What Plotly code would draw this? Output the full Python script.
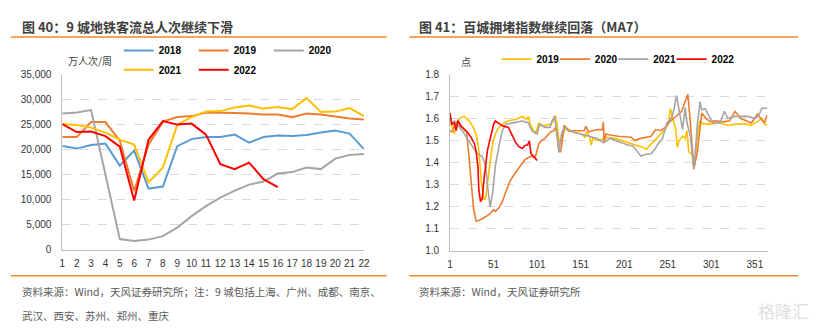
import plotly.graph_objects as go

W, H = 819, 331

# ---------------- Left chart data (9-city metro weekly ridership, 万人次/周) ----------------
weeks = list(range(1, 23))
metro_2018 = [20.7, 20.2, 20.9, 21.2, 16.8, 19.8, 12.2, 12.6, 20.7, 22.1, 22.5, 22.5, 23.0, 21.4, 22.5, 22.8, 22.7, 22.9, 23.4, 23.8, 23.2, 20.1]
metro_2019 = [22.5, 22.5, 25.5, 25.5, 21.8, 11.7, 21.0, 25.6, 26.5, 26.7, 27.4, 27.4, 27.3, 27.2, 27.0, 27.0, 26.5, 27.2, 27.0, 26.6, 26.2, 26.0]
metro_2020 = [27.2, 27.4, 27.9, 15.0, 2.1, 1.7, 2.0, 2.7, 4.4, 6.7, 8.7, 10.4, 11.8, 13.0, 13.6, 15.2, 15.5, 16.4, 16.1, 18.2, 18.9, 19.1]
metro_2021 = [25.1, 24.9, 24.4, 23.4, 22.0, 21.0, 13.5, 16.4, 25.0, 26.5, 27.6, 27.7, 28.4, 28.8, 28.2, 28.5, 28.1, 30.3, 27.5, 27.6, 28.3, 26.7]
metro_2022 = [25.1, 23.5, 23.6, 22.7, 20.6, 9.8, 22.0, 25.7, 25.0, 25.2, 23.0, 17.1, 16.1, 17.4, 14.1, 12.5]
left_yticks = [0, 5000, 10000, 15000, 20000, 25000, 30000, 35000]

# ---------------- Right chart data (100-city congestion index, MA7) ----------------
c2019_day = [1, 4, 6, 9, 12, 17, 23, 27, 31, 34, 37, 40, 42, 46, 50, 53, 57, 63, 68, 76, 84, 89, 91, 93, 99, 103, 108, 116, 120, 122, 124, 126, 128, 131, 134, 138, 145, 152, 156, 158, 161, 163, 165, 172, 180, 190, 205, 215, 222, 226, 231, 238, 243, 248, 252, 254, 257, 260, 262, 264, 268, 271, 273, 275, 279, 281, 283, 285, 288, 292, 300, 310, 320, 330, 340, 347, 353, 359, 363, 365]
c2019_val = [1.59, 1.55, 1.53, 1.58, 1.60, 1.61, 1.59, 1.565, 1.53, 1.46, 1.31, 1.23, 1.24, 1.37, 1.49, 1.53, 1.56, 1.58, 1.59, 1.596, 1.61, 1.596, 1.61, 1.575, 1.53, 1.58, 1.567, 1.574, 1.589, 1.615, 1.57, 1.50, 1.49, 1.53, 1.56, 1.55, 1.535, 1.53, 1.515, 1.54, 1.52, 1.48, 1.51, 1.50, 1.515, 1.51, 1.49, 1.48, 1.47, 1.46, 1.48, 1.51, 1.53, 1.55, 1.58, 1.645, 1.60, 1.55, 1.47, 1.50, 1.52, 1.51, 1.545, 1.45, 1.435, 1.37, 1.44, 1.52, 1.59, 1.575, 1.575, 1.58, 1.57, 1.575, 1.575, 1.57, 1.585, 1.60, 1.57, 1.575]

c2020_day = [1, 3, 6, 10, 15, 20, 22, 25, 28, 31, 34, 40, 46, 51, 53, 57, 61, 65, 70, 76, 82, 87, 93, 99, 101, 103, 106, 110, 116, 120, 122, 124, 126, 128, 130, 132, 137, 145, 155, 157, 160, 170, 176, 177, 178, 180, 185, 194, 209, 213, 220, 232, 237, 243, 248, 252, 260, 267, 270, 274, 277, 281, 285, 290, 295, 300, 305, 315, 322, 328, 335, 342, 347, 354, 358, 362, 365]
c2020_val = [1.545, 1.54, 1.567, 1.59, 1.56, 1.538, 1.46, 1.31, 1.19, 1.134, 1.137, 1.149, 1.164, 1.186, 1.178, 1.193, 1.222, 1.266, 1.317, 1.354, 1.384, 1.413, 1.427, 1.427, 1.457, 1.486, 1.50, 1.51, 1.538, 1.545, 1.56, 1.53, 1.45, 1.45, 1.50, 1.57, 1.545, 1.545, 1.545, 1.565, 1.54, 1.55, 1.55, 1.585, 1.49, 1.53, 1.525, 1.52, 1.515, 1.50, 1.51, 1.52, 1.55, 1.545, 1.56, 1.58, 1.61, 1.633, 1.667, 1.71, 1.58, 1.37, 1.45, 1.625, 1.60, 1.585, 1.59, 1.585, 1.59, 1.633, 1.60, 1.59, 1.58, 1.62, 1.60, 1.58, 1.615]

c2021_day = [1, 3, 6, 10, 15, 21, 27, 32, 38, 42, 44, 47, 50, 53, 57, 61, 65, 72, 84, 91, 95, 101, 104, 110, 116, 118, 121, 123, 126, 129, 132, 137, 150, 160, 170, 177, 185, 195, 205, 211, 216, 220, 225, 232, 237, 239, 245, 250, 255, 258, 261, 264, 268, 271, 273, 277, 281, 285, 288, 290, 294, 298, 303, 311, 316, 320, 328, 343, 351, 356, 359, 365]
c2021_val = [1.61, 1.58, 1.59, 1.57, 1.545, 1.508, 1.472, 1.442, 1.427, 1.384, 1.296, 1.198, 1.266, 1.384, 1.472, 1.545, 1.574, 1.58, 1.589, 1.58, 1.545, 1.53, 1.574, 1.56, 1.56, 1.589, 1.61, 1.55, 1.45, 1.53, 1.56, 1.545, 1.53, 1.52, 1.51, 1.49, 1.51, 1.495, 1.48, 1.475, 1.45, 1.43, 1.437, 1.44, 1.465, 1.48, 1.51, 1.58, 1.60, 1.64, 1.706, 1.64, 1.55, 1.65, 1.58, 1.52, 1.37, 1.575, 1.677, 1.64, 1.645, 1.615, 1.58, 1.58, 1.633, 1.60, 1.61, 1.61, 1.60, 1.62, 1.647, 1.647]

c2022_day = [1, 3, 6, 8, 10, 13, 17, 21, 25, 29, 31, 33, 34, 36, 38, 40, 44, 48, 51, 53, 57, 61, 68, 72, 76, 80, 84, 87, 90, 92, 94, 97, 99, 101]
c2022_val = [1.626, 1.574, 1.58, 1.545, 1.59, 1.567, 1.553, 1.538, 1.516, 1.486, 1.45, 1.384, 1.28, 1.223, 1.237, 1.325, 1.457, 1.53, 1.574, 1.589, 1.577, 1.567, 1.56, 1.53, 1.494, 1.472, 1.464, 1.478, 1.48, 1.498, 1.44, 1.427, 1.42, 1.41]

right_xticks = [1, 51, 101, 151, 201, 251, 301, 351]
right_yticks = [1.0, 1.1, 1.2, 1.3, 1.4, 1.5, 1.6, 1.7, 1.8]

# ---------------- Styling ----------------
NUM_FONT = "Liberation Sans, Arial, Noto Sans CJK SC, sans-serif"
CJK_FONT = "Noto Sans CJK SC, Liberation Sans, sans-serif"
BLUE, ORANGE, GRAY, GOLD, RED = "#5B9BD5", "#ED7D31", "#A5A5A5", "#FFC000", "#FF0000"
ACCENT = "#F0882C"


def px_x(p):
    return p / W


def px_y(p):
    return 1 - p / H


fig = go.Figure()

left_series = [
    ("2018", metro_2018, BLUE, "legend"),
    ("2019", metro_2019, ORANGE, "legend"),
    ("2020", metro_2020, GRAY, "legend"),
    ("2021", metro_2021, GOLD, "legend2"),
    ("2022", metro_2022, RED, "legend2"),
]
for name, vals, col, leg in left_series:
    fig.add_trace(go.Scatter(
        x=weeks[:len(vals)], y=[v * 1000 for v in vals], name=name, mode="lines",
        line=dict(color=col, width=2), xaxis="x", yaxis="y", legend=leg,
    ))

right_series = [
    ("2019", c2019_day, c2019_val, GOLD, "legend3"),
    ("2020", c2020_day, c2020_val, ORANGE, "legend4"),
    ("2021", c2021_day, c2021_val, GRAY, "legend5"),
    ("2022", c2022_day, c2022_val, RED, "legend6"),
]
for name, d, v, col, leg in right_series:
    fig.add_trace(go.Scatter(
        x=d, y=v, name=name, mode="lines",
        line=dict(color=col, width=1.6), xaxis="x2", yaxis="y2", legend=leg,
    ))

axis_common = dict(
    showline=True, linecolor="#BFBFBF", linewidth=1, zeroline=False,
    tickfont=dict(family=NUM_FONT, size=10, color="#333333"), ticks="",
)

leg_common = dict(
    orientation="h", xanchor="left", yanchor="middle", bgcolor="rgba(0,0,0,0)",
    font=dict(family=NUM_FONT, size=10, color="#000000", weight="bold"),
    itemwidth=30, tracegroupgap=0, entrywidthmode="pixels",
)

fig.update_layout(
    width=W, height=H, margin=dict(l=0, r=0, t=0, b=0),
    paper_bgcolor="white", plot_bgcolor="white", showlegend=True,
    xaxis=dict(domain=[px_x(60), px_x(365)], range=[1, 22], tickmode="array", tickvals=weeks,
               showgrid=False, anchor="y", ticklabelstandoff=4, **axis_common),
    yaxis=dict(domain=[px_y(253), px_y(72)], range=[0, 35000], tickvals=left_yticks,
               tickformat=",d", showgrid=True, gridcolor="#D9D9D9", griddash="dash",
               anchor="x", ticklabelstandoff=8, **axis_common),
    xaxis2=dict(domain=[px_x(452), px_x(773)], range=[1, 365.5], tickvals=right_xticks,
                showgrid=False, anchor="y2", ticklabelstandoff=4, **axis_common),
    yaxis2=dict(domain=[px_y(254), px_y(72)], range=[1.0, 1.8], tickvals=right_yticks,
                tickformat=".1f", showgrid=True, gridcolor="#D9D9D9", griddash="dash",
                anchor="x2", ticklabelstandoff=8, **axis_common),
    legend=dict(x=px_x(117), y=px_y(47), entrywidth=30, **leg_common),
    legend2=dict(x=px_x(117), y=px_y(67), entrywidth=30, **leg_common),
    legend3=dict(x=px_x(499), y=px_y(56), entrywidth=30, **leg_common),
    legend4=dict(x=px_x(558), y=px_y(56), entrywidth=30, **leg_common),
    legend5=dict(x=px_x(617), y=px_y(56), entrywidth=30, **leg_common),
    legend6=dict(x=px_x(676), y=px_y(56), entrywidth=30, **leg_common),
)

# decorative separator lines
for x0, x1 in [(8, 388), (411, 804)]:
    for yy in (33, 280):
        fig.add_shape(type="line", xref="paper", yref="paper",
                      x0=px_x(x0), x1=px_x(x1), y0=px_y(yy), y1=px_y(yy),
                      line=dict(color=ACCENT, width=1.5))

annotations = [
    dict(text="图 40：9 城地铁客流总人次继续下滑", x=px_x(17), y=px_y(22),
         font=dict(family=CJK_FONT, size=13, color="#404040", weight="bold")),
    dict(text="图 41：百城拥堵指数继续回落（MA7）", x=px_x(419), y=px_y(22),
         font=dict(family=CJK_FONT, size=13, color="#404040", weight="bold")),
    dict(text="万人次/周", x=px_x(64), y=px_y(57),
         font=dict(family=CJK_FONT, size=10, color="#404040")),
    dict(text="点", x=px_x(461), y=px_y(58),
         font=dict(family=CJK_FONT, size=10, color="#404040")),
    dict(text="资料来源：Wind，天风证券研究所；注：9 城包括上海、广州、成都、南京、", x=px_x(17), y=px_y(296),
         font=dict(family=CJK_FONT, size=10.5, color="#595959")),
    dict(text="武汉、西安、苏州、郑州、重庆", x=px_x(17), y=px_y(321),
         font=dict(family=CJK_FONT, size=10.5, color="#595959")),
    dict(text="资料来源：Wind，天风证券研究所", x=px_x(419), y=px_y(296),
         font=dict(family=CJK_FONT, size=10.5, color="#595959")),
    dict(text="格隆汇", x=px_x(761), y=px_y(316),
         font=dict(family=CJK_FONT, size=17, color="#E0E0E0")),
]
for a in annotations:
    fig.add_annotation(xref="paper", yref="paper", xanchor="left", yanchor="middle",
                       showarrow=False, **a)

fig.write_html("out.html")
